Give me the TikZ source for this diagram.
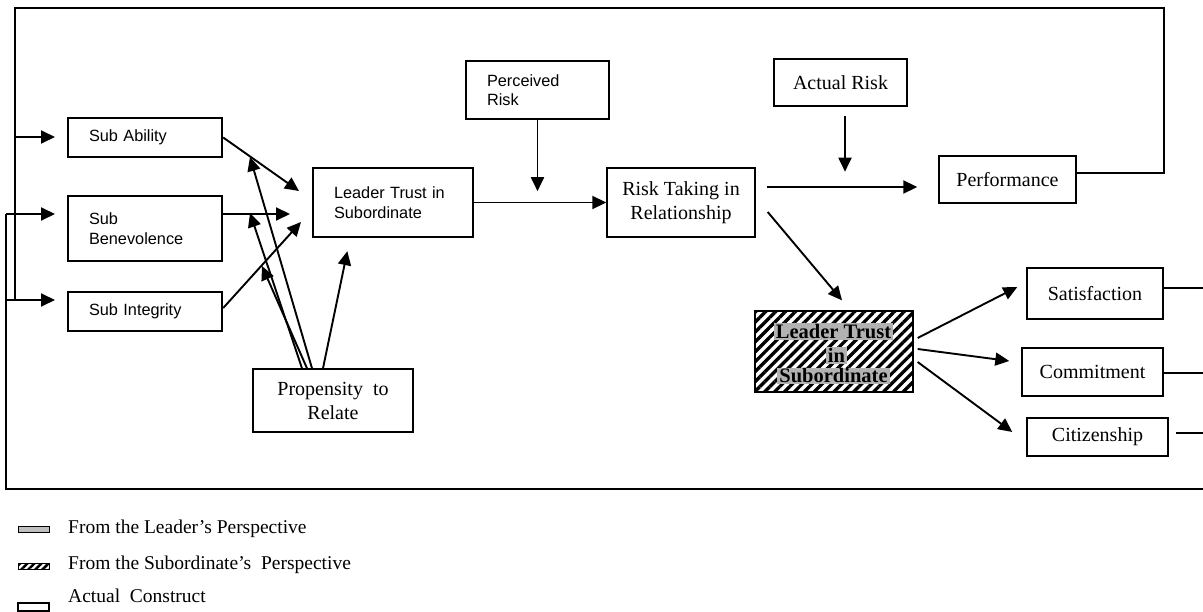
\documentclass[tikz,border=0pt]{standalone}
\usepackage{fontspec}
\setmainfont{Liberation Serif}
\newfontfamily\sansfam{Liberation Sans}
\usetikzlibrary{arrows.meta,patterns.meta,calc}
\begin{document}
\begin{tikzpicture}[x=1pt,y=-1pt,
  >={Triangle[length=14pt,width=13pt]},
  sbox/.style={draw,rectangle,line width=2.4pt,inner ysep=0pt,inner xsep=21pt,align=left,
    font=\sansfam\fontsize{16.3}{19.5}\selectfont},
  tbox/.style={draw,rectangle,line width=1.4pt,inner sep=0pt,align=center,
    font=\fontsize{20}{24}\selectfont},
  conn/.style={line width=1.9pt},
  arr/.style={conn,->},
  frame/.style={line width=1.7pt},
  hatch/.style={pattern={Lines[angle=45,distance=7pt,line width=3.3pt]}},
  hl/.style={fill=gray!60,inner xsep=2pt,inner ysep=1pt,font=\bfseries\fontsize{20.5}{23}\selectfont},
  legtext/.style={anchor=west,inner sep=0pt,font=\fontsize{19.5}{23}\selectfont},
]
\useasboundingbox (0,0) rectangle (1203,612);

% left column
\node[sbox,minimum width=154pt,minimum height=39pt,text width=112pt] (subA) at (145,137.5) {Sub Ability};
\node[sbox,minimum width=154pt,minimum height=65pt,text width=112pt] (subB) at (145,228.5) {Sub\\Benevolence};
\node[sbox,minimum width=154pt,minimum height=39pt,text width=112pt] (subI) at (145,311.5) {Sub Integrity};

% central
\node[sbox,line width=2.8pt,minimum width=160pt,minimum height=69pt,text width=118pt] (ltL) at (393,202.5) {Leader Trust in\\Subordinate};
\node[sbox,minimum width=143pt,minimum height=58pt,text width=101pt] (perc) at (537.5,90) {Perceived\\Risk};
\node[tbox,minimum width=148pt,minimum height=69pt] (rtr) at (681,202.5) {Risk Taking in\\Relationship};
\node[tbox,minimum width=133pt,minimum height=47pt] (act) at (840.5,82.5) {Actual Risk};
\node[tbox,minimum width=137pt,minimum height=47pt] (perf) at (1007.5,179.5) {Performance};
\node[tbox,minimum width=160pt,minimum height=63pt] (prop) at (333,400.5) {Propensity\ \ to\\Relate};

% hatched box
\node[draw,rectangle,line width=1.6pt,hatch,minimum width=158pt,minimum height=81pt,inner sep=0pt] (ltS) at (834,351.5) {};
\node[hl] (ltS1) at (833.5,331.5) {Leader Trust};
\node[hl] (ltS2) at (836.5,355.5) {in};
\node[hl] (ltS3) at (833.5,376) {Subordinate};

% outcomes
\node[tbox,minimum width=136pt,minimum height=51pt] (sat) at (1095,293.5) {Satisfaction};
\node[tbox,minimum width=141pt,minimum height=48pt] (com) at (1092.5,372) {Commitment};
\node[tbox,minimum width=141pt,minimum height=38pt] (cit) at (1097.5,437) {Citizenship};

% coordinates
\coordinate (tA) at (299,191);
\coordinate (tB) at (290,214);
\coordinate (tI) at (301,222);
\coordinate (mA) at (250,157);
\coordinate (mB) at (250,213);
\coordinate (mI) at (262,266);
\coordinate (topR) at (1164,8);
\coordinate (topL) at (15,8);
\coordinate (aA) at (55,137);
\coordinate (aB) at (55,214);
\coordinate (aI) at (55,300);
\coordinate (eS) at (1203,288);
\coordinate (eC) at (1203,373);
\coordinate (eZ) at (1203,433);
\coordinate (botR) at (1203,489);
\coordinate (botL) at (6,489);

% inputs into leader trust
\draw[arr] (subA.east) -- (tA);
\draw[arr] (subB.east |- tB) -- (tB);
\draw[arr] ($(subI.east)+(0,-3.5)$) -- (tI);

% propensity moderations
\draw[arr] ($(prop.north)+(-21,0)$) -- (mA);
\draw[arr] ($(prop.north)+(-31,0)$) -- (mB);
\draw[arr] ($(prop.north)+(-26,0)$) -- (mI);
\draw[arr,shorten >=13pt] ($(prop.north)+(-10,0)$) -- ($(ltL.south)+(-43,0)$);

% main chain
\draw[arr] (perc.south) -- ($(perc.south)+(0,71)$);
\draw[arr] (ltL.east) -- (rtr.west);
\draw[arr,shorten <=9pt] ($(act.south)+(4.5,0)$) -- ($(act.south)+(4.5,65)$);
\draw[arr] ($(rtr.east)+(11,-15.5)$) -- ($(perf.west)+(-21,7.5)$);
\draw[arr] ($(rtr.east)+(12,9.5)$) -- ($(ltS.north)+(8,-9)$);

% outcomes
\draw[arr] ($(ltS.east)+(3,-13.5)$) -- ($(sat.west)+(-9,-6.5)$);
\draw[arr] ($(ltS.east)+(3,-2.5)$) -- ($(com.west)+(-12,-11)$);
\draw[arr] ($(ltS.east)+(3,10.5)$) -- ($(cit.west)+(-14,-5)$);

% feedback loops
\draw[frame] ($(perf.east)+(0,-6.5)$) -| (topR) -- (topL) -- (15,300);
\draw[arr] (15,137) -- (aA);
\draw[arr] (6,300) -- (aI);
\draw[frame] ($(sat.east)+(0,-5.5)$) -- (eS);
\draw[frame] ($(com.east)+(0,1)$) -- (eC);
\draw[frame] ($(cit.east)+(7,-4)$) -- (eZ);
\draw[frame] (botR) -- (botL) -- (6,214);
\draw[arr] (6,214) -- (aB);

% legend
\node[draw,line width=1pt,fill=gray!50,minimum width=31pt,minimum height=6pt,inner sep=0pt] (lg1) at (33.5,529.5) {};
\node[legtext] (lt1) at (68,529) {From the Leader’s Perspective};
\node[draw,line width=1pt,pattern={Lines[angle=45,distance=5pt,line width=2.5pt]},minimum width=31pt,minimum height=6pt,inner sep=0pt] (lg2) at (33.5,566) {};
\node[legtext] (lt2) at (68,565) {From the Subordinate’s\ \ Perspective};
\node[draw,line width=1.3pt,minimum width=31pt,minimum height=8pt,inner sep=0pt] (lg3) at (33.5,607) {};
\node[legtext] (lt3) at (68,596) {Actual\ \ Construct};
\end{tikzpicture}
\end{document}
